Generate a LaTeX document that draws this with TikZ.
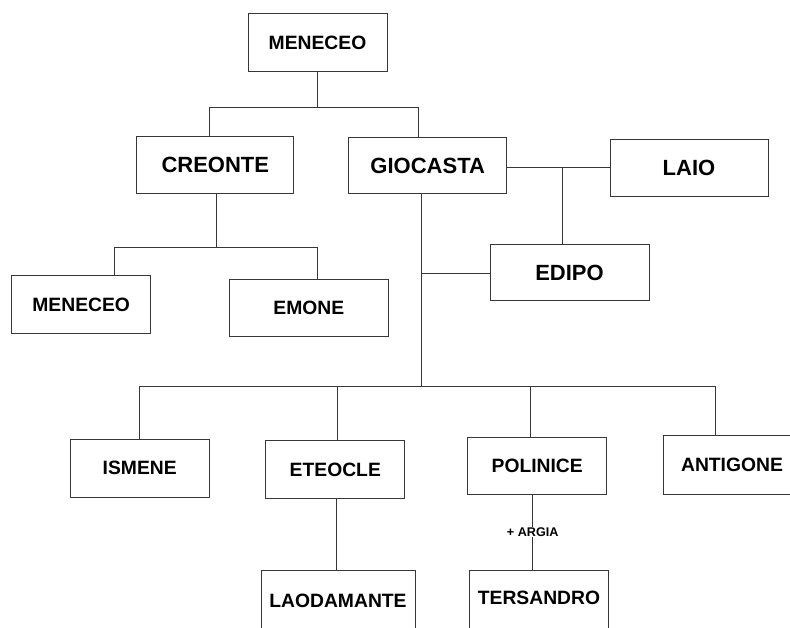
\documentclass[tikz,border=0pt]{standalone}
\usepackage{fontspec}
\setmainfont{Liberation Sans}
\begin{document}
\begin{tikzpicture}[x=1pt,y=-1pt,
  ln/.style={draw=black!78,line width=1pt},
  box/.style={ln,rectangle,inner sep=0pt,font=\bfseries\fontsize{19.3}{22}\selectfont},
  bigbox/.style={box,font=\bfseries\fontsize{22}{26}\selectfont},
  lab/.style={fill=white,inner sep=1pt,font=\bfseries\fontsize{12.6}{14}\selectfont}]
\useasboundingbox (0,0) rectangle (790,628);
\clip (0,0) rectangle (790,628);
% nodes
\node[box,minimum width=139pt,minimum height=58pt] (men1) at (317.5,43) {MENECEO};
\node[bigbox,minimum width=157pt,minimum height=57pt] (creonte) at (215.3,165) {CREONTE};
\node[bigbox,minimum width=158pt,minimum height=56pt] (giocasta) at (427.7,166) {GIOCASTA};
\node[bigbox,minimum width=158pt,minimum height=57pt] (laio) at (689,168.3) {LAIO};
\node[bigbox,minimum width=159pt,minimum height=56.5pt] (edipo) at (569.5,272.5) {EDIPO};
\node[box,minimum width=139pt,minimum height=57.5pt] (men2) at (81.2,304.5) {MENECEO};
\node[box,minimum width=159pt,minimum height=56.7pt] (emone) at (308.8,308.3) {EMONE};
\node[box,minimum width=139pt,minimum height=58pt] (ismene) at (139.7,468.3) {ISMENE};
\node[box,minimum width=139pt,minimum height=57.6pt] (eteocle) at (335.3,469.5) {ETEOCLE};
\node[box,minimum width=139pt,minimum height=56.7pt] (polinice) at (537.2,465.7) {POLINICE};
\node[box,minimum width=137.5pt,minimum height=58.3pt] (antigone) at (732,465) {ANTIGONE};
\node[box,minimum width=154pt,minimum height=62pt] (laodamante) at (338,601) {LAODAMANTE};
\node[box,minimum width=139.4pt,minimum height=62pt,text depth=6pt] (tersandro) at (539,601) {TERSANDRO};
% junction coordinates
\coordinate (j1) at (317.7,108);
\coordinate (j1l) at (209,108);
\coordinate (j1r) at (418.3,108);
\coordinate (j2) at (216,248);
\coordinate (j2l) at (114.3,248);
\coordinate (j2r) at (317.7,248);
\coordinate (j3) at (562.7,168);
\coordinate (j4) at (421.7,273.3);
\coordinate (j5) at (421.7,386);
\coordinate (j5a) at (139.3,386);
\coordinate (j5b) at (337.3,386);
\coordinate (j5c) at (530,386);
\coordinate (j5d) at (715,386);
% connectors
\draw[ln] (men1.south -| j1) -- (j1);
\draw[ln] (j1l |- creonte.north) -- (j1l) -- (j1r) -- (j1r |- giocasta.north);
\draw[ln] (creonte.south -| j2) -- (j2);
\draw[ln] (j2l |- men2.north) -- (j2l) -- (j2r) -- (j2r |- emone.north);
\draw[ln] (giocasta.east |- j3) -- (laio.west |- j3);
\draw[ln] (j3) -- (j3 |- edipo.north);
\draw[ln] (giocasta.south -| j5) -- (j5);
\draw[ln] (j4) -- (edipo.west |- j4);
\draw[ln] (j5a |- ismene.north) -- (j5a) -- (j5d) -- (j5d |- antigone.north);
\draw[ln] (j5b) -- (j5b |- eteocle.north);
\draw[ln] (j5c) -- (j5c |- polinice.north);
\draw[ln] (eteocle.south -| 336,0) -- (laodamante.north -| 336,0);
\draw[ln] (polinice.south -| 532.7,0) -- node[lab,pos=0.5] {+ ARGIA} (tersandro.north -| 532.7,0);
\end{tikzpicture}
\end{document}
